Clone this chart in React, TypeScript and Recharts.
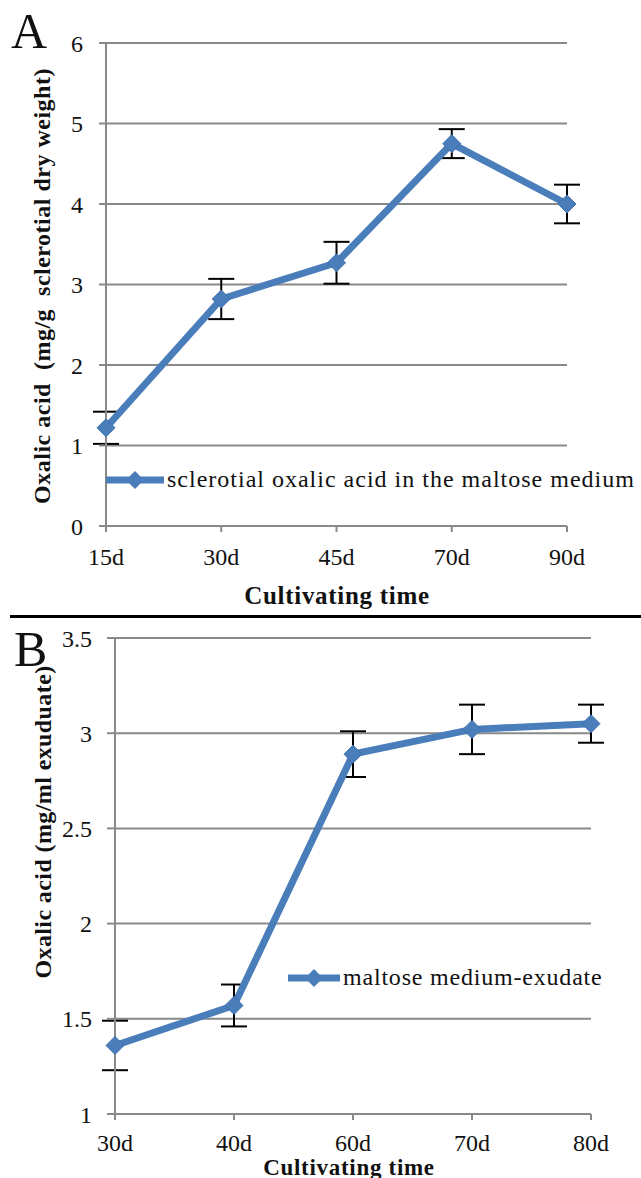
import React from "react";
import { LineChart, Line, XAxis, YAxis, CartesianGrid, ErrorBar, Legend } from "recharts";

// panel A: sclerotia
const daysA = ["15d", "30d", "45d", "70d", "90d"];
const acidA = [1.22, 2.82, 3.27, 4.75, 4.0];
const errA = [0.2, 0.25, 0.26, 0.18, 0.24];
const ticksA = [0, 1, 2, 3, 4, 5, 6];

// panel B: exudate
const daysB = ["30d", "40d", "60d", "70d", "80d"];
const acidB = [1.36, 1.57, 2.89, 3.02, 3.05];
const errB = [0.13, 0.11, 0.12, 0.13, 0.1];
const ticksB = [1, 1.5, 2, 2.5, 3, 3.5];

const dataA = daysA.map((day, i) => ({ day, acid: acidA[i], err: errA[i] }));
const dataB = daysB.map((day, i) => ({ day, acid: acidB[i], err: errB[i] }));

const BLUE = "#4a7ebb";
const GRID = "#898989";
const SERIF = "'Liberation Serif', 'Times New Roman', serif";

const tickStyle = { fontFamily: SERIF, fontSize: 24, fill: "#111" };

function Diamond(props: any) {
  const { cx, cy } = props;
  if (cx == null || cy == null) return null;
  const r = 9;
  return (
    <path
      d={`M${cx},${cy - r} L${cx + r},${cy} L${cx},${cy + r} L${cx - r},${cy} Z`}
      fill={BLUE}
      stroke="#3f70ad"
      strokeWidth={1}
    />
  );
}

function LegendItem({ label, lineW, spacing }: { label: string; lineW: number; spacing: number }) {
  const m = lineW / 2;
  return (
    <div style={{ display: "flex", alignItems: "center", whiteSpace: "nowrap" }}>
      <svg width={lineW} height={20}>
        <line x1={0} y1={10} x2={lineW} y2={10} stroke={BLUE} strokeWidth={7} />
        <path d={`M${m},1 L${m + 9},10 L${m},19 L${m - 9},10 Z`} fill={BLUE} />
      </svg>
      <span style={{ fontFamily: SERIF, fontSize: 24, letterSpacing: spacing, color: "#111", marginLeft: 3 }}>
        {label}
      </span>
    </div>
  );
}

const absText = (extra: React.CSSProperties): React.CSSProperties => ({
  position: "absolute",
  fontFamily: SERIF,
  color: "#111",
  whiteSpace: "pre",
  lineHeight: 1,
  ...extra,
});

export default function App() {
  return (
    <div style={{ position: "absolute", left: 0, top: 0, width: 641, height: 1178, background: "#fff", overflow: "hidden" }}>
      <div style={{ position: "absolute", left: 0, top: 0 }}>
        <LineChart width={641} height={617} data={dataA} margin={{ top: 43, right: 74, left: 0, bottom: 0 }}>
          <CartesianGrid vertical={false} stroke={GRID} strokeWidth={2} />
          <XAxis
            dataKey="day"
            height={91}
            stroke={GRID}
            strokeWidth={2}
            tickSize={6}
            tickMargin={16}
            tick={tickStyle}
            interval={0}
          />
          <YAxis
            width={106}
            domain={[0, 6]}
            ticks={ticksA}
            stroke={GRID}
            strokeWidth={2}
            tickSize={7}
            tickMargin={16}
            tick={tickStyle}
            allowDataOverflow
          />
          <Line
            dataKey="acid"
            name="sclerotial oxalic acid in the maltose medium"
            stroke={BLUE}
            strokeWidth={7}
            dot={<Diamond />}
            activeDot={false}
            isAnimationActive={false}
          >
            <ErrorBar dataKey="err" direction="y" width={13} stroke="#000" strokeWidth={2} />
          </Line>
          <Legend
            layout="horizontal"
            verticalAlign="middle"
            align="center"
            wrapperStyle={{ left: 106, top: 466, width: "auto", height: "auto" }}
            content={() => <LegendItem label="sclerotial oxalic acid in the maltose medium" lineW={58} spacing={1} />}
          />
        </LineChart>
      </div>

      <div style={{ position: "absolute", left: 0, top: 620 }}>
        <LineChart width={641} height={558} data={dataB} margin={{ top: 18, right: 50, left: 0, bottom: 0 }}>
          <CartesianGrid vertical={false} stroke={GRID} strokeWidth={2} />
          <XAxis
            dataKey="day"
            height={64}
            stroke={GRID}
            strokeWidth={2}
            tickSize={6}
            tickMargin={14}
            tick={tickStyle}
            interval={0}
          />
          <YAxis
            width={115}
            domain={[1, 3.5]}
            ticks={ticksB}
            stroke={GRID}
            strokeWidth={2}
            tickSize={8}
            tickMargin={15}
            tick={tickStyle}
            allowDataOverflow
          />
          <Line
            dataKey="acid"
            name="maltose medium-exudate"
            stroke={BLUE}
            strokeWidth={7}
            dot={<Diamond />}
            activeDot={false}
            isAnimationActive={false}
          >
            <ErrorBar dataKey="err" direction="y" width={13} stroke="#000" strokeWidth={2} />
          </Line>
          <Legend
            layout="horizontal"
            verticalAlign="middle"
            align="center"
            wrapperStyle={{ left: 288, top: 344, width: "auto", height: "auto" }}
            content={() => <LegendItem label="maltose medium-exudate" lineW={52} spacing={0.8} />}
          />
        </LineChart>
      </div>

      {/* panel letters */}
      <div style={absText({ left: 11, top: 6, fontSize: 50 })}>A</div>
      <div style={absText({ left: 14, top: 624, fontSize: 50 })}>B</div>

      {/* divider */}
      <div style={{ position: "absolute", left: 10, top: 615, width: 631, height: 3, background: "#000" }} />

      {/* axis titles */}
      <div style={absText({ left: 42, top: 286, fontSize: 24, letterSpacing: 0.5, fontWeight: "bold", transform: "translate(-50%, -50%) rotate(-90deg)" })}>
        {"Oxalic acid  (mg/g  sclerotial dry weight)"}
      </div>
      <div style={absText({ left: 337, top: 595, fontSize: 25, letterSpacing: 0.7, fontWeight: "bold", transform: "translate(-50%, -50%)" })}>
        Cultivating time
      </div>
      <div style={absText({ left: 43, top: 822, fontSize: 24, letterSpacing: 0.4, fontWeight: "bold", transform: "translate(-50%, -50%) rotate(-90deg)" })}>
        Oxalic acid (mg/ml exuduate)
      </div>
      <div style={absText({ left: 349, top: 1167, fontSize: 23, letterSpacing: 0.7, fontWeight: "bold", transform: "translate(-50%, -50%)" })}>
        Cultivating time
      </div>
    </div>
  );
}
